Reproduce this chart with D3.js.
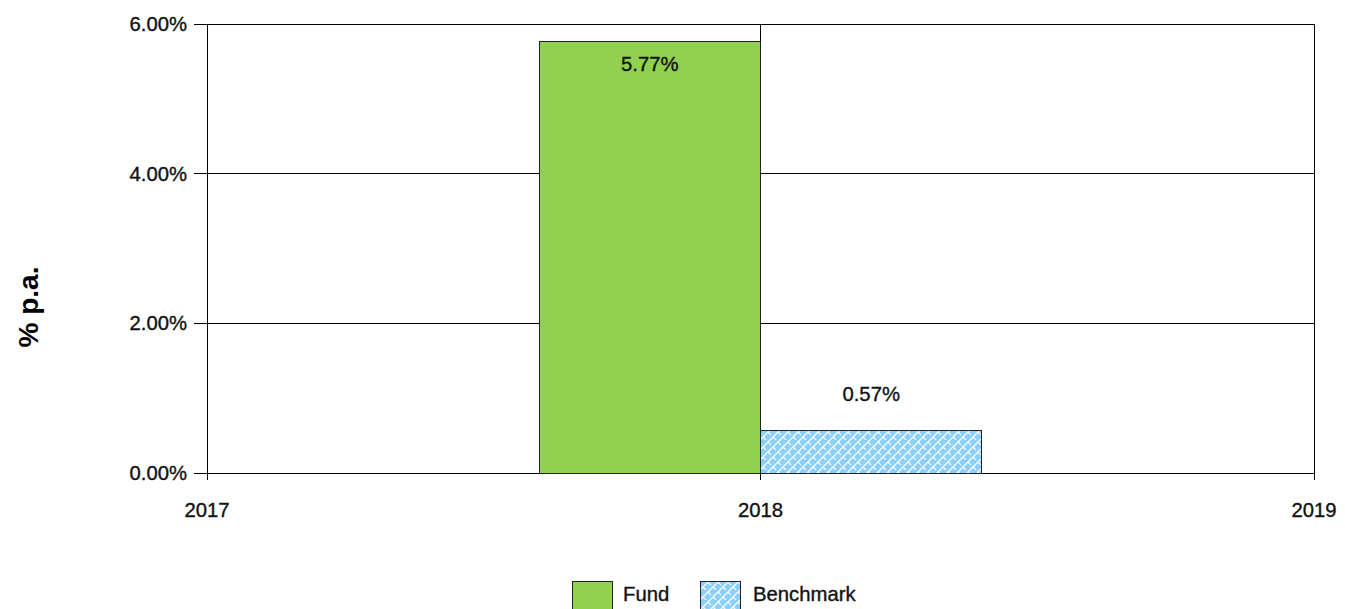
<!DOCTYPE html>
<html><head><meta charset="utf-8">
<script src="https://cdn.jsdelivr.net/npm/d3@7"></script>
<style>body{margin:0;background:#fff;}svg{display:block;font-family:"Liberation Sans",Arial,sans-serif;}
.t{stroke:#111;stroke-width:0.35px;fill:#111;}</style>
</head><body>
<svg id="c" width="1345" height="609"></svg>
<script>
const categories = [2018];
const seriesNames = ["Fund", "Benchmark"];
const fundValues = [5.77];
const benchmarkValues = [0.57];
const xTicks = [2017, 2018, 2019];
const yTicks = [0, 2, 4, 6];

const svg = d3.select("#c");
const m = {l:207, t:24, r:1314, b:473};
const x = d3.scaleLinear().domain([2017, 2019]).range([m.l, m.r]);
const y = d3.scaleLinear().domain([0, 6]).range([m.b, m.t]);
const barW = 0.4;
const FS = 20.3;

const defs = svg.append("defs");
const pat = defs.append("pattern").attr("id","brick").attr("patternUnits","userSpaceOnUse")
  .attr("width",10).attr("height",10);
pat.append("rect").attr("width",10).attr("height",10).attr("fill","#8CCFFB");
pat.append("path").attr("d","M-1,11 L11,-1 M-1,1 L1,-1 M9,11 L11,9").attr("stroke","#ffffff").attr("stroke-width",1.4).attr("opacity",0.9);
pat.append("path").attr("d","M3,7 L6,10 M8,2 L10,4 M0,4 L1,5").attr("stroke","#ffffff").attr("stroke-width",1.3).attr("opacity",0.9);

// gridlines
const g = svg.append("g");
g.selectAll(".hg").data(yTicks).join("line")
  .attr("x1", m.l - 13).attr("x2", m.r).attr("y1", d=>y(d)).attr("y2", d=>y(d))
  .attr("stroke","#000").attr("stroke-width",1).attr("shape-rendering","crispEdges");
g.selectAll(".vg").data(xTicks).join("line")
  .attr("x1", d=>x(d)).attr("x2", d=>x(d)).attr("y1", m.t).attr("y2", m.b + 7)
  .attr("stroke","#000").attr("stroke-width",1).attr("shape-rendering","crispEdges");

// bars
const bars = svg.append("g");
categories.forEach((c,i)=>{
  bars.append("rect").attr("x", x(c - barW)).attr("width", x(c) - x(c - barW))
    .attr("y", y(fundValues[i])).attr("height", y(0) - y(fundValues[i]))
    .attr("fill","#92D050").attr("stroke","#222").attr("stroke-width",1).attr("shape-rendering","crispEdges");
  bars.append("rect").attr("x", x(c)).attr("width", x(c + barW) - x(c))
    .attr("y", y(benchmarkValues[i])).attr("height", y(0) - y(benchmarkValues[i]))
    .attr("fill","url(#brick)").attr("stroke","#222").attr("stroke-width",1).attr("shape-rendering","crispEdges");
  bars.append("text").attr("class","t").attr("x", x(c - barW/2)).attr("y", y(fundValues[i]) + 23).attr("dy","0.35em")
    .attr("text-anchor","middle").attr("font-size",FS).text(fundValues[i].toFixed(2)+"%");
  bars.append("text").attr("class","t").attr("x", x(c + barW/2)).attr("y", y(benchmarkValues[i]) - 36).attr("dy","0.35em")
    .attr("text-anchor","middle").attr("font-size",FS).text(benchmarkValues[i].toFixed(2)+"%");
});

// axis labels
svg.append("g").selectAll("text").data(yTicks).join("text").attr("class","t")
  .attr("x", 187).attr("y", d=>y(d)).attr("dy","0.35em").attr("text-anchor","end")
  .attr("font-size",FS).text(d=>d.toFixed(2)+"%");
svg.append("g").selectAll("text").data(xTicks).join("text").attr("class","t")
  .attr("x", d=>x(d)).attr("y", 510).attr("dy","0.35em").attr("text-anchor","middle")
  .attr("font-size",FS).text(d=>d);

svg.append("text").attr("transform","translate(38,307) rotate(-90)").attr("text-anchor","middle")
  .attr("font-size",28).attr("font-weight","bold").attr("fill","#000").text("% p.a.");

// legend
const leg = svg.append("g");
const legItems = [{n:seriesNames[0], f:"#92D050", bx:572, tx:623},{n:seriesNames[1], f:"url(#brick)", bx:700, tx:753}];
legItems.forEach(d=>{
  leg.append("rect").attr("x",d.bx).attr("y",581).attr("width",40).attr("height",30)
    .attr("fill",d.f).attr("stroke","#222").attr("stroke-width",1).attr("shape-rendering","crispEdges");
  leg.append("text").attr("class","t").attr("x",d.tx).attr("y",594).attr("dy","0.35em").attr("font-size",FS).text(d.n);
});
</script>
</body></html>
